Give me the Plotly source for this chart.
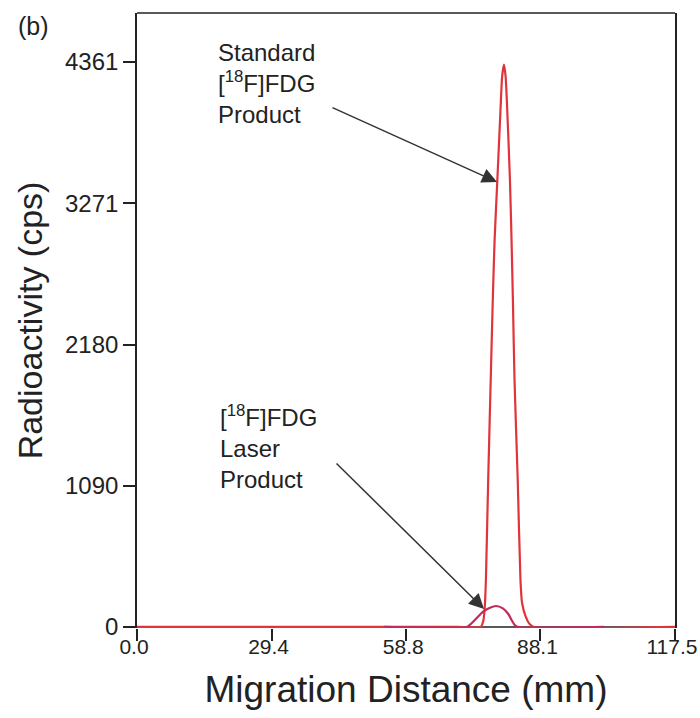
import plotly.graph_objects as go

# Radio-TLC scan: migration distance (mm) vs. count rate (cps)
std_mm = [0.0, 70.0, 75.1, 75.4, 75.7, 75.95, 76.2, 76.7, 77.25, 77.7, 78.1, 78.7,
          79.4, 79.75, 80.15, 80.5, 80.85, 81.45, 81.8, 82.1, 82.45, 83.15, 83.75,
          84.1, 84.9, 85.8, 86.7, 117.5]
std_cps = [0, 0, 0, 20, 60, 150, 363, 1135, 1906, 2520, 2986, 3450,
           4000, 4250, 4340, 4250, 4000, 3450, 2986, 2520, 1906, 1135, 363,
           185, 80, 20, 0, 0]

laser_mm = [54.0, 72.0, 72.5, 73.8, 75.6, 77.1, 78.4, 79.9, 81.1, 81.8, 82.6, 83.2, 102.0]
laser_cps = [0, 0, 10, 54, 118, 149, 162, 144, 100, 54, 10, 0, 0]

y_ticks = [0, 1090, 2180, 3271, 4361]
x_ticks = [0.0, 29.4, 58.8, 88.1, 117.5]
x_tick_text = ["0.0", "29.4", "58.8", "88.1", "117.5"]

std_label = "Standard<br>[<sup>18</sup>F]FDG<br>Product"
laser_label = "[<sup>18</sup>F]FDG<br>Laser<br>Product"

# arrow tips (data units) for each label
std_tip = (78.62, 3435)
laser_tip = (75.79, 139)

FONT = "Liberation Sans, Arial, sans-serif"
INK = "#222222"

fig = go.Figure()
fig.add_trace(go.Scatter(x=std_mm, y=std_cps, mode="lines",
                         line=dict(color="#e0343c", width=2.2, shape="spline", smoothing=0.6),
                         hoverinfo="skip", showlegend=False))
fig.add_trace(go.Scatter(x=laser_mm, y=laser_cps, mode="lines",
                         line=dict(color="#c42a5a", width=2.2, shape="spline", smoothing=0.6),
                         hoverinfo="skip", showlegend=False))

# frame: baseline at y=0 and top edge
fig.add_shape(type="line", xref="x", yref="y", x0=0, x1=117.5, y0=0, y1=0,
              line=dict(color=INK, width=1.6), layer="below")
fig.add_shape(type="line", xref="paper", yref="paper", x0=0, x1=1, y0=1, y1=1,
              line=dict(color=INK, width=1.6))

fig.add_annotation(x=std_tip[0], y=std_tip[1], xref="x", yref="y",
                   ax=-166, ay=-75, axref="pixel", ayref="pixel",
                   showarrow=True, arrowhead=2, arrowsize=2, arrowwidth=1.5,
                   arrowcolor="#333333", text="")
fig.add_annotation(x=laser_tip[0], y=laser_tip[1], xref="x", yref="y",
                   ax=-149, ay=-147, axref="pixel", ayref="pixel",
                   showarrow=True, arrowhead=2, arrowsize=2, arrowwidth=1.5,
                   arrowcolor="#333333", text="")

fig.add_annotation(x=(216 - 137) / 538, y=(627 - 36) / 615, xref="paper", yref="paper",
                   xanchor="left", yanchor="top", align="left", showarrow=False,
                   text=std_label, font=dict(family=FONT, size=24, color=INK))
fig.add_annotation(x=(218 - 137) / 538, y=(627 - 398) / 615, xref="paper", yref="paper",
                   xanchor="left", yanchor="top", align="left", showarrow=False,
                   text=laser_label, font=dict(family=FONT, size=24, color=INK))
fig.add_annotation(x=(16 - 137) / 538, y=(627 - 9) / 615, xref="paper", yref="paper",
                   xanchor="left", yanchor="top", showarrow=False,
                   text="(b)", font=dict(family=FONT, size=25, color=INK))

fig.update_xaxes(range=[0, 117.5], tickvals=x_ticks, ticktext=x_tick_text,
                 ticks="outside", ticklen=12, tickwidth=1.6, tickcolor=INK,
                 showline=False, showgrid=False, zeroline=False, automargin=False,
                 ticklabeloverflow="allow", ticklabelstandoff=-12, ticklabelshift=-3,
                 tickfont=dict(family=FONT, size=21, color=INK),
                 title=dict(text="Migration Distance (mm)", standoff=18,
                            font=dict(family=FONT, size=37, color=INK)))
fig.update_yaxes(range=[-8, 4739], tickvals=y_ticks,
                 ticks="outside", ticklen=12, tickwidth=1.6, tickcolor=INK,
                 showline=True, mirror=True, linecolor=INK, linewidth=1.6,
                 showgrid=False, zeroline=False, automargin=False,
                 tickfont=dict(family=FONT, size=24, color=INK),
                 title=dict(text="Radioactivity (cps)", standoff=12,
                            font=dict(family=FONT, size=34, color=INK)))

fig.update_layout(width=700, height=718,
                  margin=dict(l=137, r=25, t=13, b=90),
                  paper_bgcolor="white", plot_bgcolor="white")

fig.write_html("out.html")
